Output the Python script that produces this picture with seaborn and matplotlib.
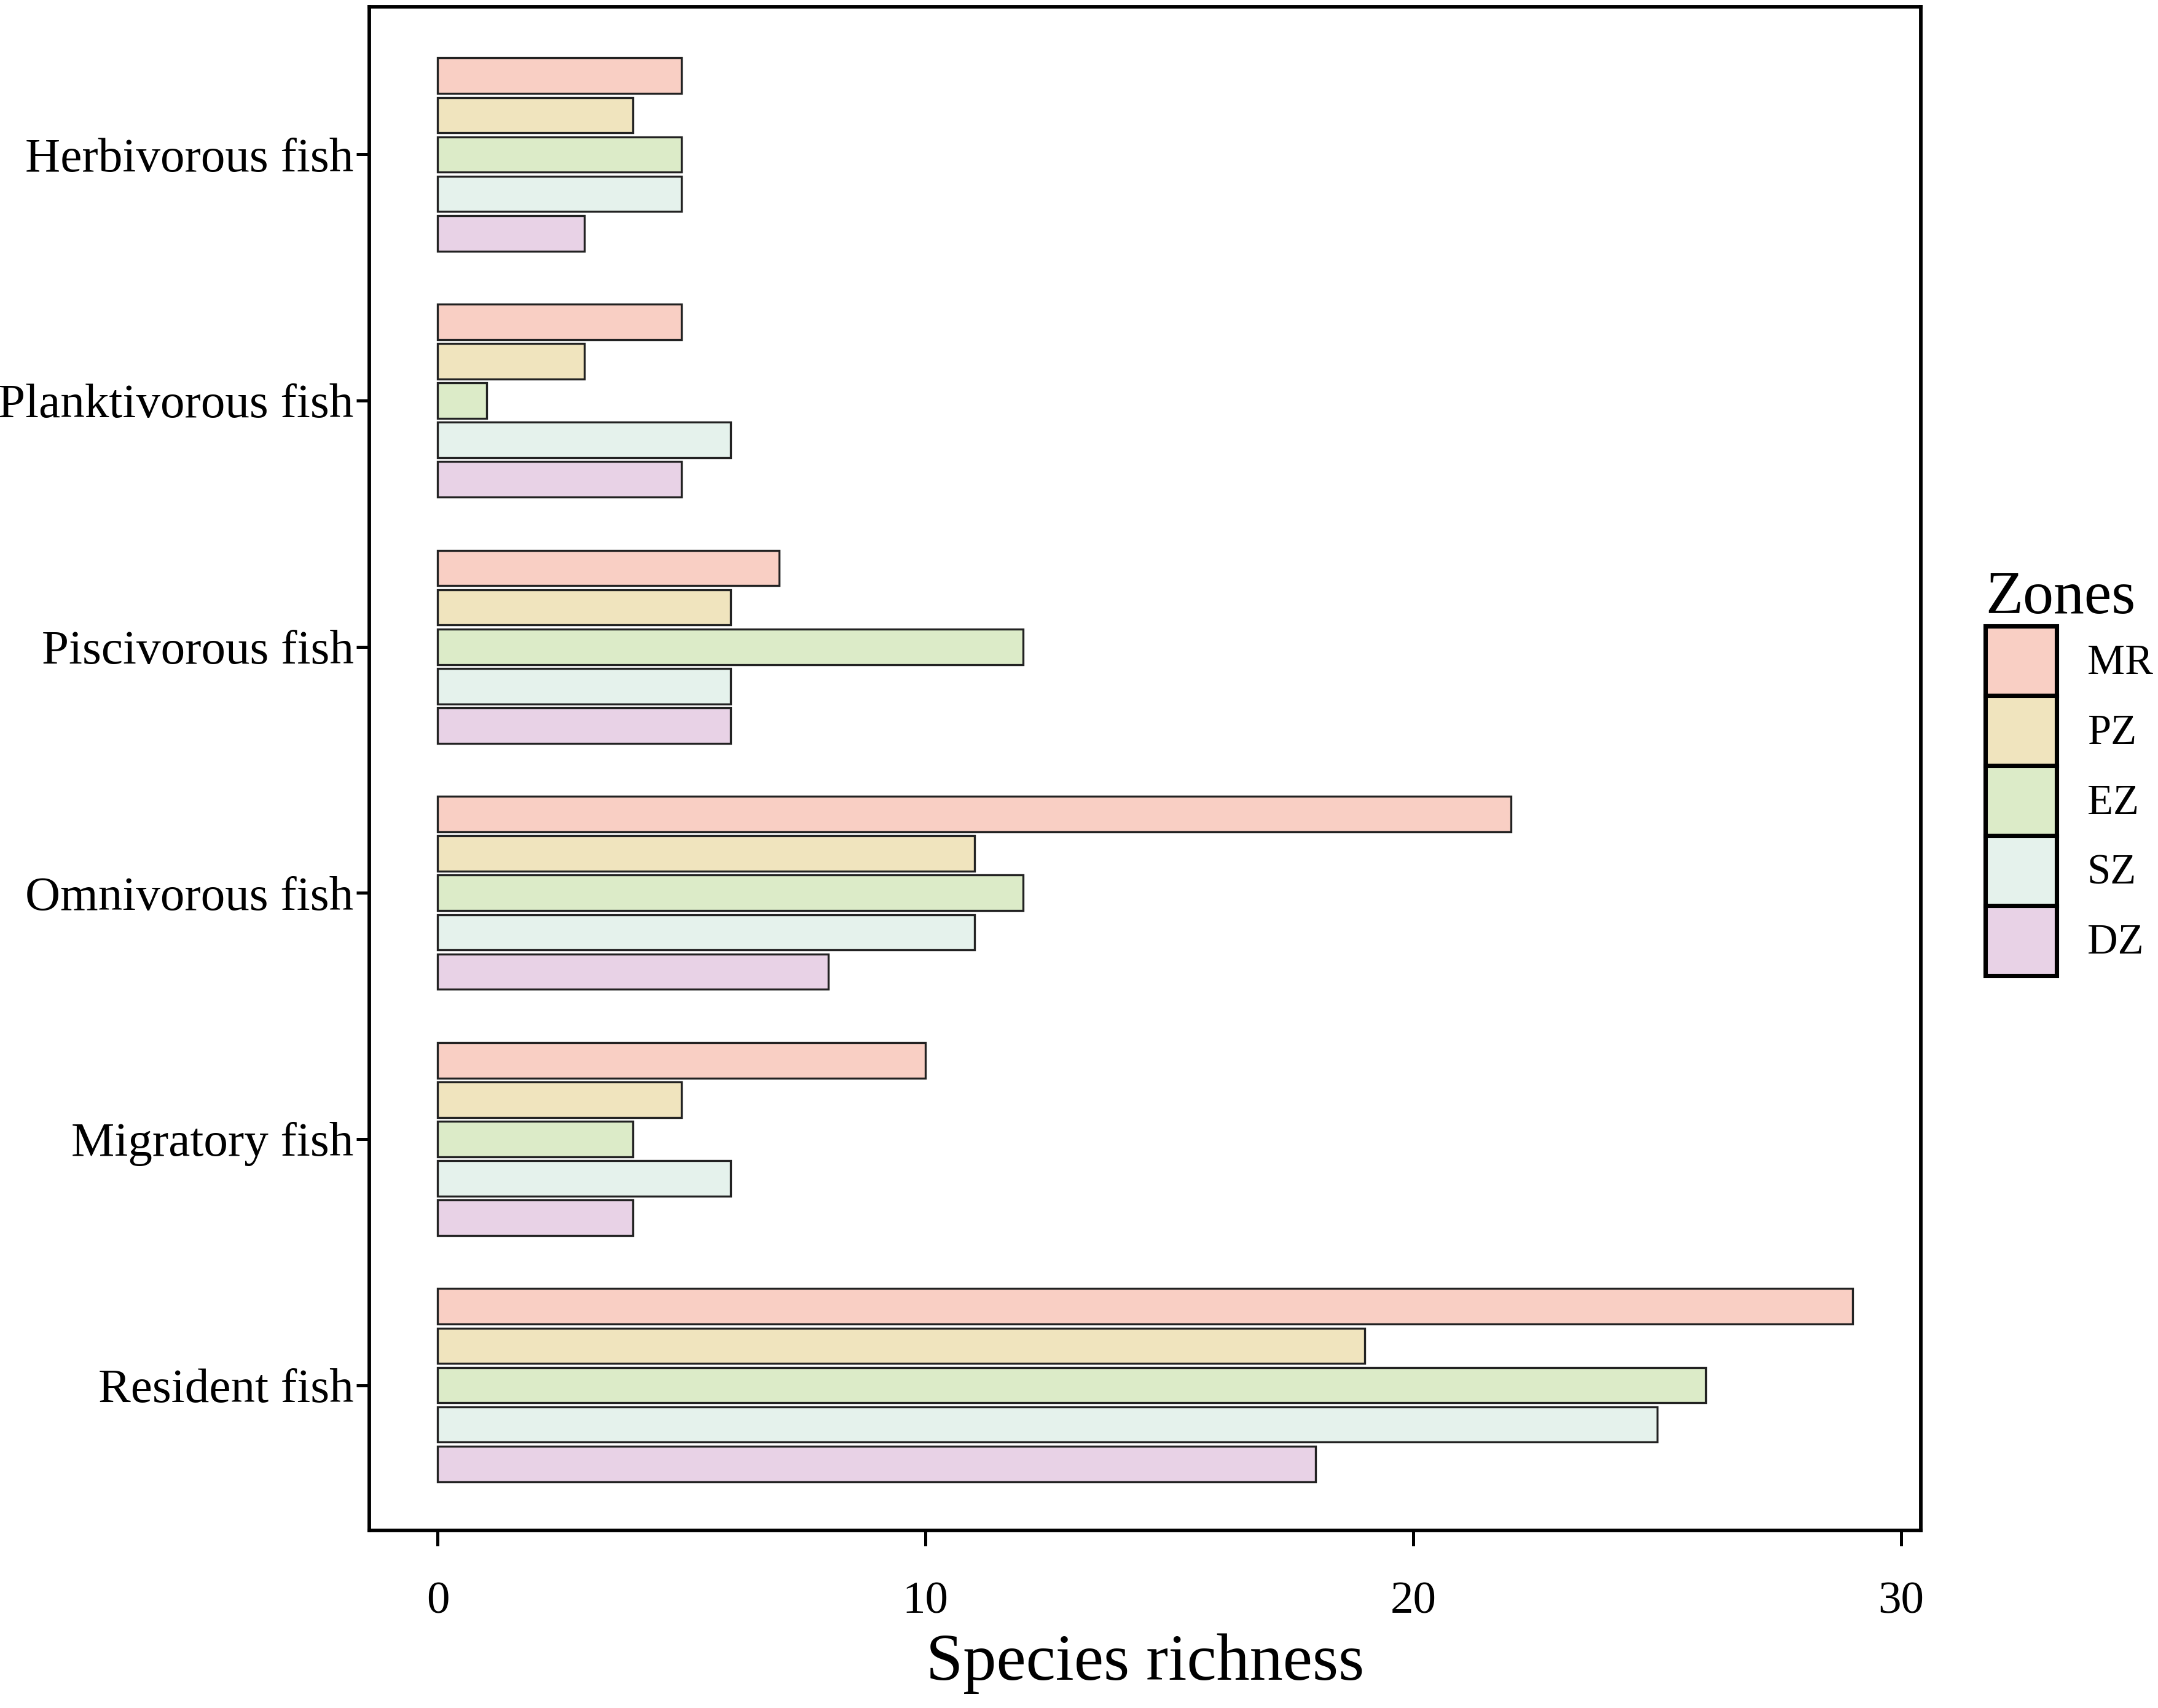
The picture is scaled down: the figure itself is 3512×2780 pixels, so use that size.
import pandas as pd
import matplotlib.pyplot as plt
import seaborn as sns

# fish guilds, top to bottom
guilds = ["Herbivorous fish", "Planktivorous fish", "Piscivorous fish",
          "Omnivorous fish", "Migratory fish", "Resident fish"]
zones = ["MR", "PZ", "EZ", "SZ", "DZ"]

# species richness per zone, one list per zone (same order as guilds)
mr = [5, 5, 7, 22, 10, 29]
pz = [4, 3, 6, 11, 5, 19]
ez = [5, 1, 12, 12, 4, 26]
sz = [5, 6, 6, 11, 6, 25]
dz = [3, 5, 6, 8, 4, 18]

zone_colors = ["#F9CFC4", "#F0E4BE", "#DCEBC8", "#E5F2EC", "#E8D2E6"]


def build_table():
    values = {"MR": mr, "PZ": pz, "EZ": ez, "SZ": sz, "DZ": dz}
    rows = []
    for zone in zones:
        for guild, v in zip(guilds, values[zone]):
            rows.append({"guild": guild, "zone": zone, "richness": v})
    return pd.DataFrame(rows)


df = build_table()

sns.set_style("ticks")
plt.rcParams["font.family"] = ["Liberation Serif", "DejaVu Serif"]
plt.rcParams["text.color"] = "black"
plt.rcParams["axes.labelcolor"] = "black"
plt.rcParams["xtick.color"] = "black"
plt.rcParams["ytick.color"] = "black"

fig = plt.figure(figsize=(3512 / 300, 2780 / 300), dpi=300)
ax = fig.add_axes([0.171, 0.104, 0.719, 0.892])

sns.barplot(
    data=df, x="richness", y="guild", hue="zone",
    order=guilds, hue_order=zones, palette=zone_colors,
    orient="h", edgecolor="#222222", linewidth=0.8, gap=0.1,
    saturation=1, ax=ax,
)

ax.set_xlim(-1.41, 30.4)
ax.set_ylim(5.59, -0.6)
ax.set_xticks([0, 10, 20, 30])
ax.set_ylabel("")
ax.set_xlabel("Species richness", fontsize=26, labelpad=4)

for side in ["top", "right", "left", "bottom"]:
    ax.spines[side].set_visible(True)
    ax.spines[side].set_linewidth(1.4)
    ax.spines[side].set_color("black")

ax.tick_params(axis="x", length=6, width=1.2, pad=14, labelsize=18)
ax.tick_params(axis="y", length=5, width=1.2, pad=1, labelsize=19)

# legend outside on the right, patches stacked without gap
handles, labels = ax.get_legend_handles_labels()
leg = ax.legend(
    handles, labels, title="Zones",
    loc="upper left", bbox_to_anchor=(0.920, 0.666),
    bbox_transform=fig.transFigure,
    frameon=False, fontsize=16.5, title_fontsize=24,
    handlelength=1.69, handleheight=2.17, labelspacing=0,
    handletextpad=0.72, borderpad=0, borderaxespad=0,
    alignment="left",
)
leg._legend_title_box.set_height(0)
for patch in leg.get_patches():
    patch.set_edgecolor("black")
    patch.set_linewidth(1.7)

fig.savefig("out.png", dpi=300)
